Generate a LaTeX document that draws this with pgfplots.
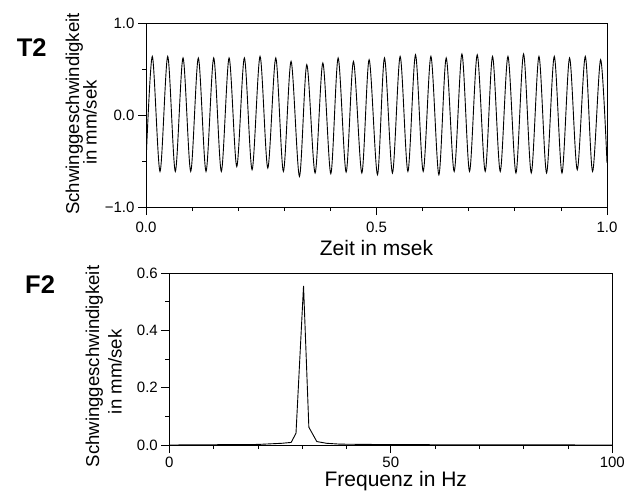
\documentclass[border=0pt]{standalone}
\usepackage{fontspec}
\setmainfont{Liberation Sans}
\usepackage{pgfplots}
\pgfplotsset{compat=1.18}
\pgfplotsset{
  oszi/.style={
    scale only axis,
    tick pos=left, tick align=outside,
    major tick length=8pt, minor tick length=4pt,
    tick style={black, line width=0.8pt},
    axis line style={black, line width=0.9pt},
    tick label style={font=\fontsize{15}{18}\selectfont},
  },
}
\begin{document}
\begin{tikzpicture}
\path[use as bounding box] (0pt,0pt) rectangle (631pt,-496pt);

% T2: Zeitsignal
\begin{axis}[oszi,
  at={(146pt,-207pt)}, anchor=south west,
  width=461pt, height=184pt,
  xmin=0, xmax=1, ymin=-1, ymax=1,
  xtick={0,0.5,1}, xticklabels={0.0,0.5,1.0},
  xticklabel style={yshift=-3pt},
  minor xtick={0.1,0.2,0.3,0.4,0.6,0.7,0.8,0.9},
  ytick={-1,0,1}, yticklabels={−1.0,0.0,1.0},
  minor ytick={-0.5,0.5},
]
\addplot[black, line width=0.9pt, smooth] coordinates {
(0,-0.52) (0.0137,0.637) (0.0304,-0.613) (0.0471,0.637) (0.0636,-0.613)
(0.0803,0.620) (0.0970,-0.613) (0.1135,0.620) (0.1302,-0.613) (0.1469,0.620)
(0.1634,-0.613) (0.1802,0.620) (0.1969,-0.560) (0.2134,0.620) (0.2301,-0.595)
(0.2474,0.637) (0.2642,-0.576) (0.2815,0.620) (0.2980,-0.613) (0.3147,0.583)
(0.3328,-0.667) (0.3488,0.547) (0.3668,-0.630) (0.3836,0.565) (0.4009,-0.638)
(0.4168,0.620) (0.4341,-0.620) (0.4500,0.583) (0.4682,-0.630) (0.4840,0.601)
(0.5021,-0.649) (0.5173,0.620) (0.5346,-0.630) (0.5513,0.637) (0.5681,-0.613)
(0.5846,0.655) (0.6013,-0.613) (0.6180,0.637) (0.6353,-0.649) (0.6512,0.620)
(0.6685,-0.613) (0.6853,0.663) (0.7018,-0.613) (0.7185,0.655) (0.7358,-0.613)
(0.7517,0.637) (0.7684,-0.613) (0.7851,0.637) (0.8025,-0.630) (0.8190,0.663)
(0.8357,-0.630) (0.8524,0.637) (0.8689,-0.630) (0.8856,0.637) (0.9023,-0.630)
(0.9188,0.620) (0.9355,-0.595) (0.9529,0.637) (0.9687,-0.613) (0.9861,0.601)
(1.0,-0.52)
};
\end{axis}

% F2: Spektrum
\begin{axis}[oszi,
  at={(169.3pt,-445pt)}, anchor=south west,
  width=443pt, height=172pt,
  xmin=0, xmax=100, ymin=0, ymax=0.6,
  xtick={0,50,100}, xticklabels={0,50,100},
  minor xtick={10,20,30,40,60,70,80,90},
  ytick={0,0.2,0.4,0.6}, yticklabels={0.0,0.2,0.4,0.6},
  minor ytick={0.1,0.3,0.5},
]
\addplot[black, line width=0.9pt] coordinates {
(0,0) (10,0.001) (20,0.002) (25.4,0.006) (27.5,0.009) (28.6,0.041)
(30.3,0.555) (31.5,0.062) (33.3,0.012) (35.5,0.006) (38.5,0.003)
(45,0.002) (60,0.001) (100,0)
};
\end{axis}

\node[anchor=base west, font=\bfseries\fontsize{25.5}{30}\selectfont] at (13.3pt,-56.7pt) {T2};
\node[anchor=base west, font=\bfseries\fontsize{25.5}{30}\selectfont] at (21.7pt,-293.3pt) {F2};

\node[anchor=base, font=\fontsize{21}{25}\selectfont] at (376.5pt,-255pt) {Zeit in msek};
\node[anchor=base, font=\fontsize{21}{25}\selectfont] at (395.8pt,-486pt) {Frequenz in Hz};

\begin{scope}[every node/.style={rotate=90, anchor=base, inner sep=0pt, font=\fontsize{18.6}{22}\selectfont}]
\node at (79pt,-114pt) {Schwinggeschwindigkeit};
\node at (96.7pt,-122.5pt) {in mm/sek};
\node at (99pt,-366.5pt) {Schwinggeschwindigkeit};
\node at (121.7pt,-371.7pt) {in mm/sek};
\end{scope}
\end{tikzpicture}
\end{document}
